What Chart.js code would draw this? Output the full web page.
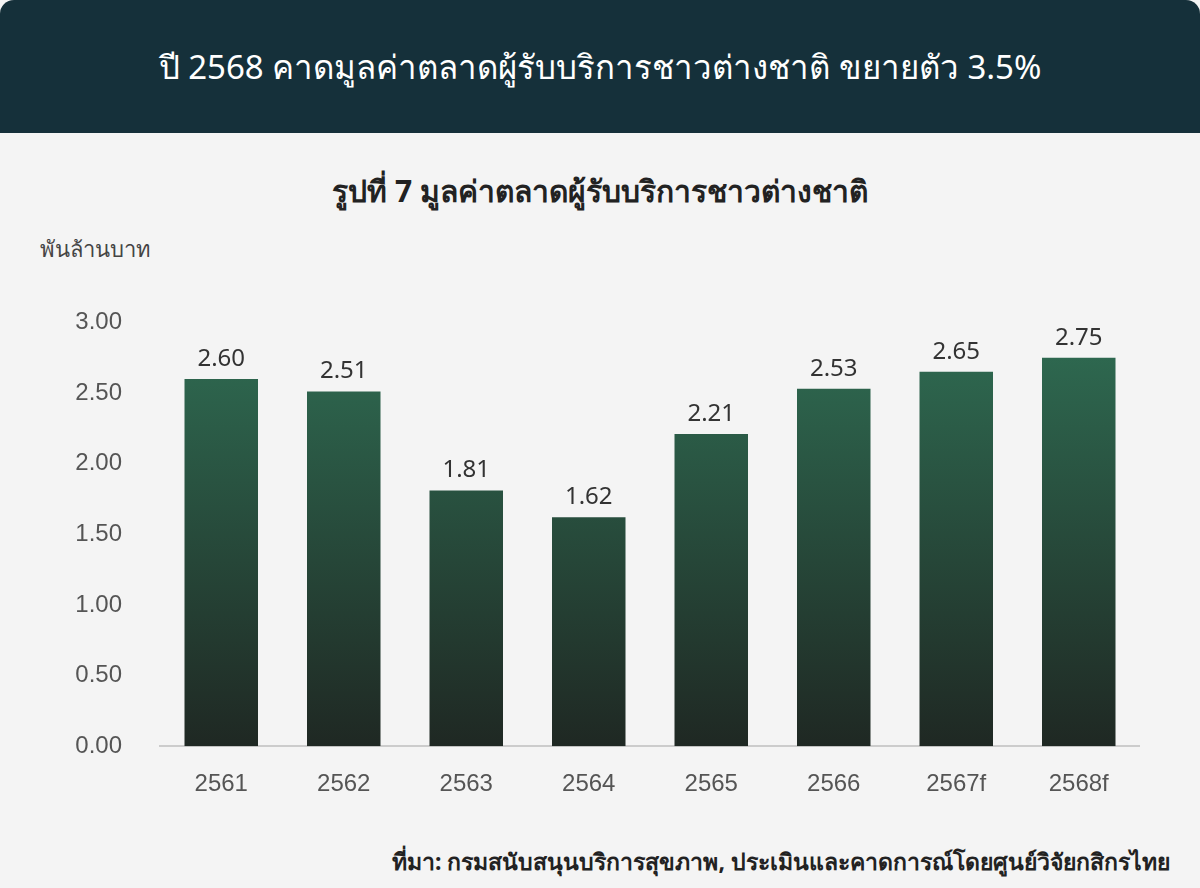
<!DOCTYPE html>
<html><head><meta charset="utf-8">
<script src="https://cdn.jsdelivr.net/npm/chart.js@4/dist/chart.umd.min.js"></script>
<style>
body{margin:0;width:1200px;height:888px;background:#f4f4f4;font-family:"Noto Sans","DejaVu Sans",sans-serif;position:relative;overflow:hidden}
#hdr{position:absolute;left:0;top:0;width:1200px;height:133px;background:#15303a;border-radius:14px 14px 0 0;color:#fff;font-size:33px;text-align:center;line-height:133px}
#ttl{position:absolute;top:168px;width:1200px;text-align:center;font-size:30px;font-weight:bold;color:#222}
#unit{position:absolute;left:40px;top:232px;font-size:22px;color:#444}
#src{position:absolute;right:30px;top:844px;font-size:23px;font-weight:bold;color:#222}
#wrap{position:absolute;left:0;top:278px;width:1140px;height:537px}
</style></head><body>
<div id="hdr">ปี 2568 คาดมูลค่าตลาดผู้รับบริการชาวต่างชาติ ขยายตัว 3.5%</div>
<div id="ttl">รูปที่ 7 มูลค่าตลาดผู้รับบริการชาวต่างชาติ</div>
<div id="unit">พันล้านบาท</div>
<div id="wrap"><canvas id="c"></canvas></div>
<div id="src">ที่มา: กรมสนับสนุนบริการสุขภาพ, ประเมินและคาดการณ์โดยศูนย์วิจัยกสิกรไทย</div>
<script>
const categories=["2561","2562","2563","2564","2565","2566","2567f","2568f"];
const values=[2.60,2.51,1.81,1.62,2.21,2.53,2.65,2.75];
const yTicks=[0,0.5,1,1.5,2,2.5,3];
const labelsPlugin={id:'lbl',afterDatasetsDraw(ch){const c=ch.ctx;const m=ch.getDatasetMeta(0);c.save();c.font='24px "Noto Sans","DejaVu Sans",sans-serif';c.fillStyle='#333';c.textAlign='center';c.textBaseline='bottom';m.data.forEach((b,i)=>c.fillText(values[i].toFixed(2),b.x,b.y-8));c.restore();}};
new Chart(document.getElementById('c'),{type:'bar',
data:{labels:categories,datasets:[{data:values,barPercentage:0.6,categoryPercentage:1,
backgroundColor(ctx){const a=ctx.chart.chartArea;if(!a)return '#2e6b52';const g=ctx.chart.ctx.createLinearGradient(0,a.top,0,a.bottom);g.addColorStop(0,'#2f6d53');g.addColorStop(1,'#1f2823');return g;}}]},
options:{responsive:true,maintainAspectRatio:false,animation:false,layout:{padding:{top:24}},
plugins:{legend:{display:false},tooltip:{enabled:false}},
scales:{y:{min:0,max:3,afterBuildTicks(s){s.ticks=yTicks.map(v=>({value:v}));},afterFit(s){s.width=160;},
grid:{display:false},border:{display:false},ticks:{padding:30,color:'#555',font:{size:24},callback:v=>v.toFixed(2)}},
x:{grid:{display:false},border:{color:'#ccc',width:2},ticks:{color:'#555',font:{size:24},padding:16}}}},
plugins:[labelsPlugin]});
</script></body></html>
